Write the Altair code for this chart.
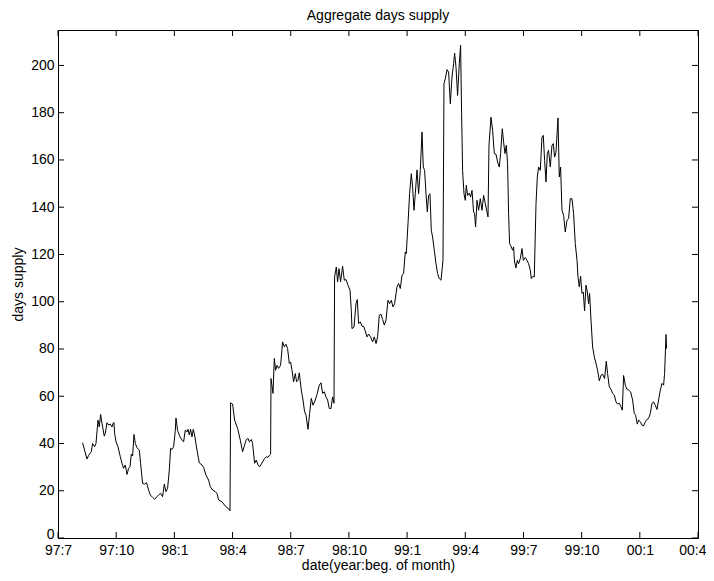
import altair as alt
import pandas as pd

# months since 1997-07 (beginning of month)
months = [
    1.268, 1.495, 1.578, 1.717, 1.784, 1.887, 1.959, 2.062, 2.130, 2.197, 2.269, 2.387, 2.439, 2.527, 2.609,
    2.697, 2.784, 2.836, 2.887, 2.918, 2.991, 3.094, 3.212, 3.300, 3.382, 3.470, 3.558, 3.640, 3.712, 3.779,
    3.847, 3.919, 3.986, 4.073, 4.192, 4.259, 4.362, 4.465, 4.568, 4.671, 4.759, 4.878, 4.981, 5.105, 5.187,
    5.290, 5.393, 5.481, 5.569, 5.651, 5.739, 5.806, 5.878, 5.961, 6.048, 6.084, 6.167, 6.291, 6.394, 6.476,
    6.564, 6.652, 6.703, 6.770, 6.837, 6.909, 6.976, 7.043, 7.167, 7.286, 7.425, 7.507, 7.631, 7.765, 7.853,
    7.971, 8.111, 8.198, 8.281, 8.456, 8.626, 8.766, 8.869, 8.900, 9.003, 9.106, 9.261, 9.400, 9.518, 9.621,
    9.694, 9.797, 9.864, 9.967, 10.034, 10.137, 10.225, 10.312, 10.395, 10.519, 10.637, 10.740, 10.828, 10.911, 10.962,
    10.983, 11.086, 11.153, 11.220, 11.292, 11.375, 11.478, 11.581, 11.669, 11.756, 11.839, 11.926, 11.993, 12.066, 12.148,
    12.236, 12.303, 12.375, 12.442, 12.545, 12.633, 12.715, 12.787, 12.891, 12.973, 13.061, 13.148, 13.267, 13.370, 13.473,
    13.561, 13.643, 13.731, 13.819, 13.901, 13.989, 14.076, 14.159, 14.231, 14.262, 14.350, 14.417, 14.489, 14.571, 14.674,
    14.762, 14.850, 14.953, 15.056, 15.123, 15.159, 15.262, 15.366, 15.433, 15.500, 15.587, 15.675, 15.757, 15.845, 15.933,
    16.015, 16.118, 16.221, 16.309, 16.397, 16.479, 16.567, 16.654, 16.737, 16.825, 16.912, 17.015, 17.098, 17.186, 17.273,
    17.356, 17.480, 17.562, 17.650, 17.737, 17.820, 17.908, 17.959, 18.047, 18.129, 18.217, 18.284, 18.356, 18.423, 18.511,
    18.593, 18.681, 18.769, 18.836, 18.903, 18.975, 19.042, 19.109, 19.181, 19.248, 19.315, 19.403, 19.490, 19.573, 19.661,
    19.748, 19.800, 19.851, 19.903, 19.970, 20.058, 20.140, 20.228, 20.315, 20.398, 20.450, 20.522, 20.604, 20.692, 20.759,
    20.811, 20.862, 20.934, 21.001, 21.053, 21.120, 21.208, 21.275, 21.347, 21.429, 21.481, 21.532, 21.605, 21.687, 21.775,
    21.862, 21.945, 22.033, 22.120, 22.172, 22.223, 22.327, 22.409, 22.497, 22.584, 22.667, 22.754, 22.821, 22.909, 22.976,
    23.048, 23.115, 23.182, 23.234, 23.285, 23.373, 23.440, 23.491, 23.543, 23.615, 23.682, 23.749, 23.837, 23.925, 23.992,
    24.095, 24.182, 24.265, 24.353, 24.404, 24.492, 24.559, 24.647, 24.714, 24.781, 24.869, 24.956, 25.023, 25.090, 25.162,
    25.229, 25.296, 25.384, 25.471, 25.538, 25.605, 25.678, 25.781, 25.848, 25.915, 25.987, 26.070, 26.157, 26.245, 26.327,
    26.415, 26.503, 26.585, 26.673, 26.761, 26.812, 26.879, 26.946, 27.018, 27.085, 27.152, 27.225, 27.292, 27.359, 27.410,
    27.483, 27.565, 27.653, 27.740, 27.823, 27.911, 27.998, 28.081, 28.184, 28.271, 28.338, 28.426, 28.514, 28.597, 28.684,
    28.772, 28.854, 28.942, 29.029, 29.097, 29.164, 29.251, 29.339, 29.422, 29.525, 29.628, 29.715, 29.782, 29.870, 29.937,
    30.025, 30.112, 30.195, 30.282, 30.370, 30.453, 30.540, 30.628, 30.710, 30.798, 30.886, 30.968, 31.056, 31.144, 31.226,
    31.278, 31.350, 31.381,
]

supply = [
    40.3, 33.4, 35.0, 36.5, 40.0, 38.6, 40.0, 49.9, 47.0, 52.3, 48.5, 43.1, 44.3, 48.8, 47.8,
    48.2, 47.0, 48.5, 48.9, 44.3, 40.7, 38.6, 34.4, 31.6, 29.5, 30.9, 26.9, 29.5, 30.1, 35.5,
    34.7, 43.8, 40.0, 38.2, 37.2, 31.6, 23.1, 22.8, 23.4, 20.3, 18.2, 17.2, 16.4, 17.5, 18.2,
    18.9, 17.5, 22.8, 19.6, 21.0, 28.8, 37.9, 37.5, 38.6, 45.4, 50.8, 45.5, 42.8, 41.4, 40.7,
    45.7, 44.9, 46.0, 43.6, 46.0, 42.8, 46.0, 43.6, 37.2, 31.8, 30.9, 29.9, 26.6, 24.5, 21.7,
    20.3, 19.6, 18.9, 16.1, 15.3, 13.5, 12.6, 11.5, 57.2, 56.7, 49.9, 46.4, 41.4, 36.5, 39.3,
    41.4, 42.2, 40.7, 41.7, 40.0, 31.6, 33.0, 30.9, 30.1, 31.8, 33.5, 34.4, 34.1, 35.1, 35.5,
    67.5, 61.2, 76.0, 71.0, 73.1, 71.8, 73.1, 83.0, 80.9, 82.0, 80.2, 73.9, 74.5, 71.0, 66.1,
    69.6, 66.1, 66.8, 69.9, 62.6, 58.4, 53.4, 52.0, 46.0, 52.7, 59.1, 56.2, 58.4, 61.2, 64.7,
    65.7, 61.2, 61.9, 59.7, 58.4, 54.8, 54.8, 59.7, 57.0, 110.5, 114.7, 108.4, 114.0, 108.4, 115.0,
    109.1, 109.4, 107.0, 104.9, 96.4, 88.6, 89.3, 99.2, 100.9, 90.7, 91.5, 89.6, 89.6, 87.6, 85.1,
    86.3, 85.1, 83.0, 85.1, 82.3, 85.1, 94.3, 94.7, 92.5, 90.1, 92.2, 100.6, 99.2, 100.6, 97.8,
    99.2, 106.3, 107.7, 105.6, 111.2, 111.9, 121.1, 120.4, 133.1, 145.7, 154.2, 148.5, 138.7, 145.7, 155.8,
    145.7, 155.6, 171.8, 157.0, 155.6, 145.7, 138.0, 145.0, 145.7, 130.2, 127.4, 121.8, 116.1, 111.9, 109.8,
    109.1, 113.3, 117.5, 192.3, 194.4, 198.2, 197.2, 183.8, 195.1, 200.7, 205.2, 199.3, 187.3, 200.7, 208.5,
    179.6, 155.6, 145.7, 142.9, 149.3, 145.0, 146.0, 144.3, 147.1, 138.0, 137.3, 131.6, 142.9, 138.7, 143.6,
    138.7, 145.0, 141.5, 138.0, 135.9, 166.2, 178.1, 172.5, 162.7, 162.4, 159.1, 157.0, 162.7, 173.2, 167.5,
    162.7, 166.2, 158.4, 137.3, 124.6, 123.2, 121.8, 123.2, 116.8, 114.3, 117.5, 116.1, 118.2, 122.5, 117.5,
    118.7, 117.5, 116.1, 113.3, 109.8, 110.8, 110.5, 141.5, 152.8, 157.0, 155.6, 169.7, 170.4, 159.8, 150.7,
    162.7, 164.1, 157.0, 166.2, 166.9, 161.2, 163.3, 177.8, 152.8, 157.0, 138.7, 136.6, 129.5, 134.5, 135.2,
    143.6, 143.6, 137.3, 124.6, 117.5, 110.5, 106.3, 110.8, 103.5, 104.1, 96.1, 107.0, 104.1, 99.2, 103.5,
    92.2, 80.9, 76.7, 73.9, 71.0, 66.5, 68.9, 69.3, 67.5, 74.8, 69.6, 64.0, 62.9, 61.2, 60.5,
    57.6, 56.7, 57.0, 55.5, 54.1, 68.8, 64.7, 62.9, 62.6, 61.9, 58.4, 52.7, 52.0, 48.2, 49.9,
    49.2, 47.8, 47.4, 49.2, 50.2, 50.6, 52.7, 57.0, 57.6, 56.2, 54.4, 58.4, 62.6, 65.4, 64.7,
    69.6, 86.1, 80.2,
]

tick_months = [0, 3, 6, 9, 12, 15, 18, 21, 24, 27, 30, 33]
tick_labels = ["97:7", "97:10", "98:1", "98:4", "98:7", "98:10", "99:1", "99:4", "99:7", "99:10", "00:1", "00:4"]
y_ticks = [0, 20, 40, 60, 80, 100, 120, 140, 160, 180, 200]

W, H = 640, 508
FONT = "Liberation Sans"
FS = 14

df = pd.DataFrame({"month": months, "supply": supply})
xt = pd.DataFrame({"month": tick_months})
yt = pd.DataFrame({"supply": y_ticks})

x_scale = alt.Scale(domain=[0, 33], nice=False, zero=False)
y_scale = alt.Scale(domain=[0, 215], nice=False, zero=False)

label_expr = "[" + ",".join("'" + l + "'" for l in tick_labels) + "][round(datum.value / 3)]"

x_axis = alt.Axis(
    values=tick_months,
    labelExpr=label_expr,
    title="date(year:beg. of month)",
    tickSize=0,
    labelPadding=5,
    labelFlush=False,
    labelOverlap=False,
    labelAlign={"expr": "datum.value >= 33 ? 'right' : 'center'"},
    labelOffset={"expr": "datum.value >= 33 ? 8 : 0"},
    titleY=31,
    titleBaseline="alphabetic",
    grid=False,
    domain=False,
)
y_axis = alt.Axis(
    values=y_ticks,
    title="days supply",
    tickSize=0,
    labelPadding=4,
    labelOffset={"expr": "datum.value == 0 ? -4 : 0"},
    titleX=-36,
    titleBaseline="alphabetic",
    grid=False,
    domain=False,
)

X = alt.X("month:Q", scale=x_scale, axis=x_axis)
Y = alt.Y("supply:Q", scale=y_scale, axis=y_axis)

line = alt.Chart(df).mark_line(color="black", strokeWidth=1).encode(x=X, y=Y)

tick_len = 6
x_bottom = alt.Chart(xt).mark_rule(color="black", strokeWidth=1).encode(
    x=X, y=alt.value(H), y2=alt.value(H - tick_len)
)
x_top = alt.Chart(xt).mark_rule(color="black", strokeWidth=1).encode(
    x=X, y=alt.value(0), y2=alt.value(tick_len)
)
y_left = alt.Chart(yt).mark_rule(color="black", strokeWidth=1).encode(
    y=Y, x=alt.value(0), x2=alt.value(tick_len)
)
y_right = alt.Chart(yt).mark_rule(color="black", strokeWidth=1).encode(
    y=Y, x=alt.value(W), x2=alt.value(W - tick_len)
)

chart = (
    alt.layer(line, x_bottom, x_top, y_left, y_right)
    .properties(
        width=W,
        height=H,
        background="white",
        title=alt.TitleParams(
            "Aggregate days supply",
            fontSize=FS,
            fontWeight="normal",
            font=FONT,
            color="black",
            baseline="alphabetic",
            offset=10,
            dy=14,
            anchor="middle",
        ),
        autosize=alt.AutoSizeParams(type="none"),
        padding={"left": 50, "top": 22, "right": 8, "bottom": 35},
    )
    .configure_view(stroke="black", strokeWidth=1)
    .configure_axis(
        labelFont=FONT,
        titleFont=FONT,
        labelFontSize=FS,
        titleFontSize=FS,
        labelColor="black",
        titleColor="black",
        titleFontWeight="normal",
    )
)

chart.save("out.html", embed_options={"renderer": "svg", "actions": False})
